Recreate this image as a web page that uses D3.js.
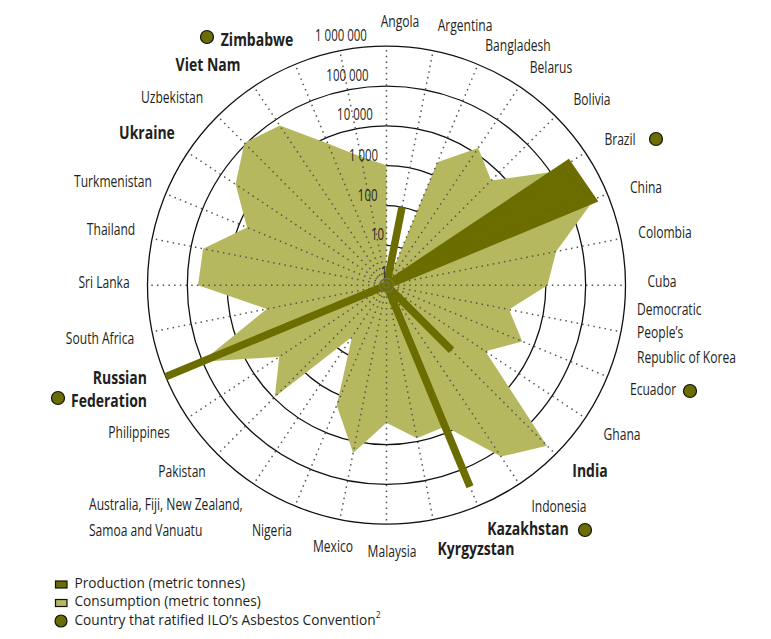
<!DOCTYPE html>
<html lang="en">
    <head>
        <meta charset="UTF-8" />
        <title>Asbestos production and consumption</title>
        <script src="https://d3js.org/d3.v7.js"></script>
        <style>
            html, body { margin: 0; padding: 0; background: #fff; }
            svg { display: block; }
            text { fill: #231f20; }
        </style>
    </head>

    <body>
        <div id="dataviz"></div>
    </body>

    <script>
        // clockwise from the top, the last spoke has no country (tick labels sit there)
        const countries = ["Angola", "Argentina", "Bangladesh", "Belarus", "Bolivia", "Brazil", "China", "Colombia",
            "Cuba", "Democratic People's Republic of Korea", "Ecuador", "Ghana", "India", "Indonesia", "Kazakhstan", "Kyrgyzstan",
            "Malaysia", "Mexico", "Nigeria", "Australia, Fiji, New Zealand, Samoa and Vanuatu", "Pakistan", "Philippines", "Russian Federation", "South Africa",
            "Sri Lanka", "Thailand", "Turkmenistan", "Ukraine", "Uzbekistan", "Viet Nam", "Zimbabwe", ""];

        const consumption = [1030, 0, 2180, 13900, 5200, 140000, 446000, 22000,
            11000, 1370, 4900, 970, 500000, 149000, 6900, 8300,
            2830, 19600, 1840, 36, 9270, 1730, 105000, 1160,
            54000, 49500, 6180, 36000, 111000, 66000, 7100, 1950];

        const production = [0, 100, 0, 0, 0, 300000, 400000, 0,
            0, 0, 0, 0, 204, 0, 300000, 0,
            0, 0, 0, 0, 0, 0, 1000000, 0,
            0, 0, 0, 0, 0, 0, 0, 0];

        const ticks = [1, 10, 100, 1000, 10000, 100000, 1000000];
        const tickLabels = ["1", "10", "100", "1 000", "10 000", "100 000", "1 000 000"];

        const boldCountries = ["Kazakhstan", "Kyrgyzstan", "India", "Russian Federation", "Ukraine", "Viet Nam", "Zimbabwe"];
        const ratified = ["Brazil", "Ecuador", "Kazakhstan", "Russian Federation", "Zimbabwe"];

        const legendLabels = ["Production (metric tonnes)", "Consumption (metric tonnes)", "Country that ratified ILO\u2019s Asbestos Convention"];

        const dark = "#6b6d00", light = "#b6b85f";
        const width = 771, height = 639;
        const cx = 386.5, cy = 285.2, outer = 239;

        // hand placed, the labels in the original don't sit on a regular radius
        const labelPlace = {
            "Angola": {x: 400, y: 22}, "Argentina": {x: 465, y: 26}, "Bangladesh": {x: 518, y: 46},
            "Belarus": {x: 551, y: 68}, "Bolivia": {x: 592, y: 100}, "Brazil": {x: 620, y: 140},
            "China": {x: 646, y: 188}, "Colombia": {x: 665, y: 233}, "Cuba": {x: 662, y: 282},
            "Democratic People's Republic of Korea": {x: 637, y: 310, anchor: "start", lines: ["Democratic", "People\u2019s", "Republic of Korea"], dy: 24},
            "Ecuador": {x: 653, y: 390}, "Ghana": {x: 622, y: 435}, "India": {x: 590, y: 473},
            "Indonesia": {x: 559, y: 507}, "Kazakhstan": {x: 528, y: 531}, "Kyrgyzstan": {x: 476, y: 551},
            "Malaysia": {x: 392, y: 552}, "Mexico": {x: 333, y: 547}, "Nigeria": {x: 272, y: 531},
            "Australia, Fiji, New Zealand, Samoa and Vanuatu": {x: 89, y: 505, anchor: "start", lines: ["Australia, Fiji, New Zealand,", "Samoa and Vanuatu"], dy: 26},
            "Pakistan": {x: 182, y: 472}, "Philippines": {x: 139, y: 433},
            "Russian Federation": {x: 147, y: 380, anchor: "end", lines: ["Russian", "Federation"], dy: 23},
            "South Africa": {x: 100, y: 339}, "Sri Lanka": {x: 104, y: 283}, "Thailand": {x: 111, y: 230},
            "Turkmenistan": {x: 113, y: 182}, "Ukraine": {x: 147, y: 135}, "Uzbekistan": {x: 172, y: 98},
            "Viet Nam": {x: 208, y: 67}, "Zimbabwe": {x: 257, y: 42}
        };
        const dotPlace = {
            "Brazil": [656, 139], "Ecuador": [690, 391], "Kazakhstan": [585, 530],
            "Russian Federation": [58, 398], "Zimbabwe": [207, 37]
        };
        const tickPlace = [[384, 274], [377.5, 236], [367.7, 197], [363.5, 157], [355, 116], [347.5, 77], [341, 37]];

        // no condensed face installed, so squeeze Open Sans
        const labelFont = "'Open Sans', sans-serif";

        const svg = d3.select("#dataviz")
            .append("svg")
            .attr("width", width)
            .attr("height", height);

        const chart = svg.append("g")
            .attr("transform", `translate(${cx},${cy})`);

        const r = d3.scaleLog()
            .domain([1, 1000000])
            .range([0, outer]);

        const angle = d3.scalePoint()
            .domain(d3.range(countries.length + 1))
            .range([0, 2 * Math.PI]);

        const radial = d3.lineRadial()
            .angle((d, i) => angle(i))
            .radius(d => d > 0 ? r(d) : 0)
            .curve(d3.curveLinearClosed);

        // rings
        chart.selectAll(".ring")
            .data(ticks.slice(1))
            .join("circle")
            .attr("class", "ring")
            .attr("r", d => r(d))
            .attr("fill", "none")
            .attr("stroke", "#111")
            .attr("stroke-width", 1.3);

        chart.append("path")
            .attr("d", radial(consumption))
            .attr("fill", light);

        // spokes go over the consumption area
        chart.selectAll(".spoke")
            .data(countries)
            .join("line")
            .attr("class", "spoke")
            .attr("x1", 0)
            .attr("y1", 0)
            .attr("x2", (d, i) => outer * Math.sin(angle(i)))
            .attr("y2", (d, i) => -outer * Math.cos(angle(i)))
            .attr("stroke", "#55554a")
            .attr("stroke-width", 1.5)
            .attr("stroke-dasharray", "1.5 4.2");

        // the stroke is what makes the single countries look like bars
        chart.append("path")
            .attr("d", radial(production))
            .attr("fill", dark)
            .attr("stroke", dark)
            .attr("stroke-width", 7.5)
            .attr("stroke-linejoin", "miter")
            .attr("stroke-miterlimit", 3);

        // small rings in the centre
        chart.selectAll(".hub")
            .data([3, 7])
            .join("circle")
            .attr("class", "hub")
            .attr("r", d => d)
            .attr("fill", "none")
            .attr("stroke", "#77776a")
            .attr("stroke-width", 1);

        // tick labels
        svg.selectAll(".tick-label")
            .data(tickLabels)
            .join("text")
            .attr("class", "tick-label")
            .attr("transform", (d, i) => `translate(${tickPlace[i][0]},${tickPlace[i][1]}) scale(0.74,1)`)
            .attr("text-anchor", "middle")
            .attr("dominant-baseline", "middle")
            .attr("font-family", labelFont)
            .attr("font-size", 15.5)
            .text(d => d);

        // country labels
        const labels = svg.selectAll(".country")
            .data(countries.filter(d => d !== ""))
            .join("text")
            .attr("class", "country")
            .attr("transform", d => {
                const sx = boldCountries.includes(d) ? 0.8 : 0.755;
                return `translate(${labelPlace[d].x},${labelPlace[d].y}) scale(${sx},1)`;
            })
            .attr("font-family", labelFont)
            .attr("font-size", d => boldCountries.includes(d) ? 17.5 : 16)
            .attr("font-weight", d => boldCountries.includes(d) ? "bold" : "normal")
            .attr("text-anchor", d => labelPlace[d].anchor || "middle")
            .attr("dominant-baseline", "middle");

        labels.each(function(d) {
            const p = labelPlace[d];
            const lines = p.lines || [d];
            d3.select(this).selectAll("tspan")
                .data(lines)
                .join("tspan")
                .attr("x", 0)
                .attr("y", (l, i) => i * (p.dy || 0))
                .text(l => l);
        });

        svg.selectAll(".ratified")
            .data(ratified)
            .join("circle")
            .attr("class", "ratified")
            .attr("cx", d => dotPlace[d][0])
            .attr("cy", d => dotPlace[d][1])
            .attr("r", 6.5)
            .attr("fill", dark)
            .attr("stroke", "#111")
            .attr("stroke-width", 1.2);

        // legend
        const legend = svg.append("g");
        const legendY = d3.scalePoint().domain(d3.range(3)).range([584, 621]);

        legend.selectAll("rect")
            .data([dark, light])
            .join("rect")
            .attr("x", 55.5)
            .attr("y", (d, i) => legendY(i) - 3)
            .attr("width", 11.5)
            .attr("height", 7)
            .attr("fill", d => d)
            .attr("stroke", "#111")
            .attr("stroke-width", 1.2);

        legend.append("circle")
            .attr("cx", 61)
            .attr("cy", legendY(2))
            .attr("r", 6)
            .attr("fill", dark)
            .attr("stroke", "#111")
            .attr("stroke-width", 1.2);

        const legendText = legend.selectAll("text")
            .data(legendLabels)
            .join("text")
            .attr("transform", (d, i) => `translate(74.5,${legendY(i)}) scale(0.945,1)`)
            .attr("dominant-baseline", "middle")
            .attr("font-family", "'Open Sans', sans-serif")
            .attr("font-size", 14.5)
            .text(d => d);

        legendText.filter((d, i) => i === 2)
            .append("tspan")
            .attr("font-size", 9)
            .attr("dy", -5)
            .text("2");
    </script>
</html>
